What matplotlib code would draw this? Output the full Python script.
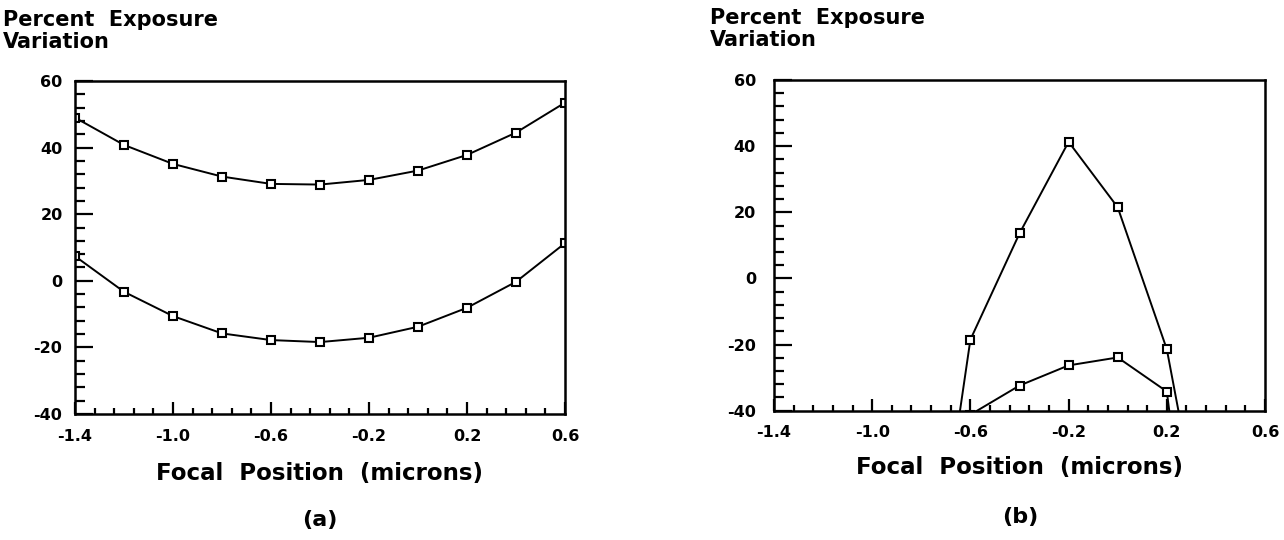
import matplotlib
matplotlib.use("Agg")
import matplotlib.pyplot as plt
from matplotlib.ticker import MultipleLocator, FixedLocator
import numpy as np

plt.rcParams['font.family'] = ['DejaVu Sans']
plt.rcParams['font.weight'] = 'bold'
plt.rcParams['axes.unicode_minus'] = False

# panel (a): focal positions and two exposure-variation curves
focus_a = [-1.4, -1.2, -1.0, -0.8, -0.6, -0.4, -0.2, 0.0, 0.2, 0.4, 0.6]
upper_a = [49.0, 40.8, 35.1, 31.3, 29.1, 28.9, 30.3, 33.1, 37.8, 44.5, 53.5]
lower_a = [7.4, -3.3, -10.6, -15.8, -17.8, -18.4, -17.1, -13.8, -8.1, -0.3, 11.3]

# panel (b): curves run off the bottom of the plot at both ends
focus_b_up = [-0.8, -0.6, -0.4, -0.2, 0.0, 0.2, 0.4]
upper_b = [-120.0, -18.5, 13.6, 41.3, 21.5, -21.4, -100.0]
focus_b_lo = [-0.6, -0.4, -0.2, 0.0, 0.2, 0.4]
lower_b = [-41.2, -32.4, -26.3, -23.9, -34.2, -150.0]

xticks = [-1.4, -1.0, -0.6, -0.2, 0.2, 0.6]
xticklabels = ['-1.4', '-1.0', '-0.6', '-0.2', '0.2', '0.6']
yticks = [-40, -20, 0, 20, 40, 60]
yticklabels = ['-40', '-20', '0', '20', '40', '60']

fig = plt.figure(figsize=(12.84, 5.4), dpi=100)
ax_a = fig.add_axes([75/1284, 1-414/540, 490/1284, 333/540])
ax_b = fig.add_axes([774/1284, 1-410.7/540, 491/1284, 330.7/540])


def style(ax, ypad, xpad, lpad):
    ax.set_xlim(-1.4, 0.6)
    ax.set_ylim(-40, 60)
    ax.set_xticks(xticks)
    ax.set_xticklabels(xticklabels)
    ax.set_yticks(yticks)
    ax.set_yticklabels(yticklabels)
    ax.xaxis.set_minor_locator(FixedLocator(np.arange(-1.4, 0.61, 0.08)))
    ax.yaxis.set_minor_locator(MultipleLocator(4))
    ax.tick_params(axis='x', which='major', direction='in', length=9, width=1.6,
                   labelsize=11.5, pad=xpad)
    ax.tick_params(axis='x', which='minor', direction='in', length=4.5, width=1.6)
    ax.tick_params(axis='y', which='major', direction='in', length=13, width=1.6,
                   labelsize=11.5, pad=ypad)
    ax.tick_params(axis='y', which='minor', direction='in', length=7, width=1.6)
    for s in ax.spines.values():
        s.set_linewidth(1.8)
    for lab in ax.get_xticklabels() + ax.get_yticklabels():
        lab.set_fontweight('bold')
    ax.set_xlabel('Focal  Position  (microns)', fontsize=16.5, fontweight='bold',
                  labelpad=lpad)


mk = dict(color='black', lw=1.4, marker='s', ms=5.5, mfc='white', mec='black',
          mew=1.5, clip_on=True)

ax_a.plot(focus_a, upper_a, **mk)
ax_a.plot(focus_a, lower_a, **mk)
style(ax_a, 9, 11, 13)

ax_b.plot(focus_b_up, upper_b, **mk)
ax_b.plot(focus_b_lo, lower_b, **mk)
style(ax_b, 13, 10, 12)

fig.text(3/1284, 1-10/540, 'Percent  Exposure\nVariation', ha='left', va='top',
         fontsize=15, fontweight='bold', linespacing=1.1)
fig.text(710/1284, 1-8/540, 'Percent  Exposure\nVariation', ha='left', va='top',
         fontsize=15, fontweight='bold', linespacing=1.1)

fig.text(320/1284, 1-520/540, '(a)', ha='center', va='center', fontsize=16,
         fontweight='bold')
fig.text(1020/1284, 1-517/540, '(b)', ha='center', va='center', fontsize=16,
         fontweight='bold')

fig.savefig('out.png', dpi=100)
